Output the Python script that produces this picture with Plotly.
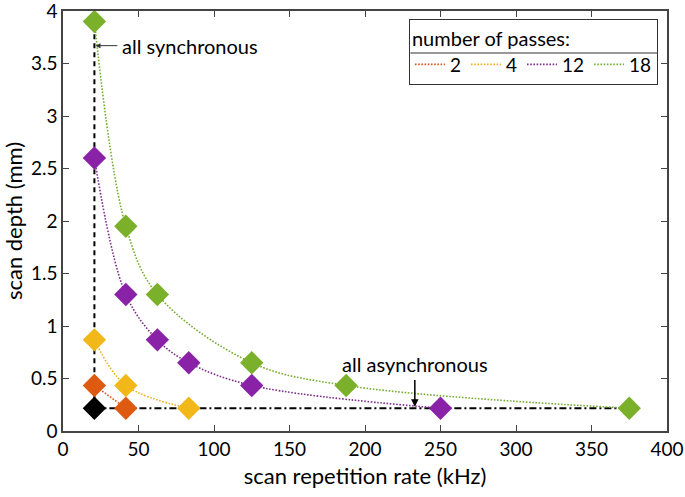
import plotly.graph_objects as go

# data
rate_2 = [20.8, 41.6]
depth_2 = [0.434, 0.217]
rate_4 = [20.8, 41.6, 83.3]
depth_4 = [0.868, 0.434, 0.217]
rate_12 = [20.8, 41.6, 62.5, 83.3, 125, 250]
depth_12 = [2.6, 1.3, 0.868, 0.65, 0.434, 0.217]
rate_18 = [20.8, 41.6, 62.5, 125, 187.5, 375]
depth_18 = [3.9, 1.95, 1.3, 0.65, 0.434, 0.217]
base_rate = [20.8]
base_depth = [0.217]
sync_x = [20.8, 20.8]
sync_y = [0.217, 3.9]
async_x = [20.8, 375]
async_y = [0.217, 0.217]

names = ["2", "4", "12", "18"]
colors = ["#D95319", "#EDB120", "#7E2F8E", "#77AC30"]
marker_colors = ["#DE5A10", "#F2B81A", "#8A22A8", "#7AB02A"]

font = "Lato, 'Open Sans', sans-serif"
fig = go.Figure()

fig.add_trace(go.Scatter(x=sync_x, y=sync_y, mode="lines",
                         line=dict(color="black", width=2, dash="5px,4px"),
                         showlegend=False))
fig.add_trace(go.Scatter(x=async_x, y=async_y, mode="lines",
                         line=dict(color="black", width=2, dash="7px,3px,2px,3px"),
                         showlegend=False))

series = [(rate_2, depth_2), (rate_4, depth_4), (rate_12, depth_12), (rate_18, depth_18)]
for (xs, ys), n, c in zip(series, names, colors):
    fig.add_trace(go.Scatter(x=xs, y=ys, mode="lines", name=n,
                             line=dict(color=c, width=1.6, dash="1.6px,1.6px", shape="spline", smoothing=1.0)))
for (xs, ys), n, mc in zip(series, names, marker_colors):
    fig.add_trace(go.Scatter(x=xs, y=ys, mode="markers", showlegend=False,
                             marker=dict(symbol="diamond", size=18, color=mc,
                                         line=dict(width=0))))
fig.add_trace(go.Scatter(x=base_rate, y=base_depth, mode="markers", showlegend=False,
                         marker=dict(symbol="diamond", size=18, color="black")))

fig.add_annotation(x=21.5, y=3.67, ax=37, ay=3.67, axref="x", ayref="y",
                   text="", showarrow=True, arrowhead=2, arrowsize=1, arrowwidth=1,
                   arrowcolor="#333")
fig.add_annotation(x=38, y=3.67, text="all synchronous", showarrow=False,
                   xanchor="left", font=dict(size=20, family=font, color="black"))
fig.add_annotation(x=233, y=0.23, ax=233, ay=0.5, axref="x", ayref="y",
                   text="", showarrow=True, arrowhead=2, arrowsize=1, arrowwidth=1.5,
                   arrowcolor="black")
fig.add_annotation(x=233, y=0.64, text="all asynchronous", showarrow=False,
                   font=dict(size=20, family=font, color="black"))

# separator line inside legend box
fig.add_shape(type="line", xref="paper", yref="paper", x0=0.575, x1=0.985, y0=0.9, y1=0.9,
              line=dict(color="#333", width=1), layer="above")

axis_common = dict(showline=True, linecolor="#444", linewidth=1.5, mirror="ticks",
                   ticks="inside", ticklen=6, tickcolor="#444", showgrid=False,
                   zeroline=False, automargin=False, ticklabeloverflow="allow",
                   tickfont=dict(size=19, family=font, color="black"))
fig.update_xaxes(range=[0, 400], dtick=50,
                 title=dict(text="scan repetition rate (kHz)", font=dict(size=22, family=font, color="black"), standoff=10),
                 **axis_common)
fig.update_yaxes(range=[0, 4], dtick=0.5,
                 title=dict(text="scan depth (mm)", font=dict(size=22, family=font, color="black"), standoff=8),
                 **axis_common)

fig.update_layout(
    width=685, height=497,
    margin=dict(l=63, r=18, t=11, b=66),
    plot_bgcolor="white", paper_bgcolor="white",
    legend=dict(orientation="h", x=0.985, y=0.982, xanchor="right", yanchor="top",
                bordercolor="#333", borderwidth=1, bgcolor="rgba(0,0,0,0)",
                title=dict(text="number of passes:", side="top", font=dict(size=20, family=font, color="black")),
                font=dict(size=19, family=font, color="black"),
                itemwidth=30, tracegroupgap=0),
)
fig.write_html("out.html", post_script="document.body.style.margin='0';",
               config={"displayModeBar": False})
